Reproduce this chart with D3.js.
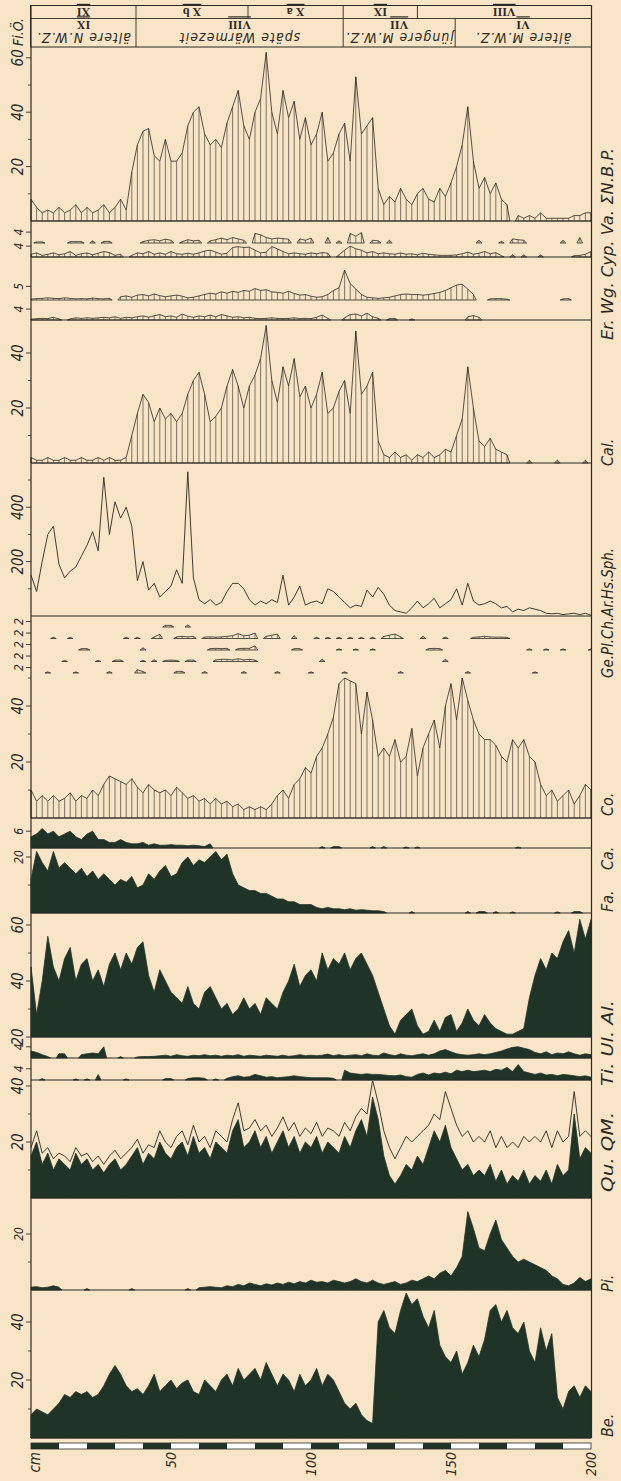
<!DOCTYPE html>
<html lang="de">
<head>
<meta charset="UTF-8">
<script src="https://d3js.org/d3.v7.min.js"></script>
<style>
  body { margin: 0; background: #f8e4c6; }
  text { font-family: "Liberation Sans Narrow", "DejaVu Sans Condensed", "Liberation Sans", sans-serif; font-style: italic; fill: #2b2a24; }
</style>
</head>
<body>
<div id="chart"></div>
<script>
// sample depths, every 2 cm
const depth = d3.range(0, 201, 2);

// values per sample (0 = not found)
const nbp = [8,5,3,4,3,5,3,4,6,3, 5,3,4,6,3,5,8,4,18,28, 33,34,24,22,30,22,22,25,35,40,
  42,32,28,30,27,36,42,48,35,30, 40,45,62,40,32,48,38,44,30,38, 28,32,40,22,25,32,36,22,53,32,
  35,38,12,6,9,7,12,8,6,10, 12,8,7,12,9,14,20,28,42,22, 12,16,10,14,8,6,0,2,1,2, 1,3,1,1,1,1,1,2,2,3,3];
const va = [0,0.4,0.4,0,0,0,0,0.5,0.5,0.5, 0,0.8,0,0.6,0.6,0,0,0,0,0, 0.5,1,1.2,0.8,1.4,1,0,0.5,1.2,0.8,
  1,0,0.8,1.2,1.8,1.2,2,1.5,1,0, 3.5,3,2,1.5,1.8,1.6,1.4,0,1.5,1, 1.8,0,0,2,0,0.8,0,3.5,2.5,3.8,
  0,1,0.8,0,1,0,0,0,0,0, 0,0,0,0,0,0,0,0,0,0, 1,0,0,0,0.6,0,1.5,1.2,1,0, 0,0,0,0,0,1,0,0,2,0,0];
const cyp = [1,1.5,0.6,1,1.5,0.8,1.2,2,0.6,1.2, 1.5,0.8,1.4,2,1.6,0.6,1,0,0.6,1.5, 1.2,2,1,1.5,1,2,1.2,1,1.4,1,
  1.5,2.2,2.5,1.8,1,1.4,3.5,3.8,3.5,3.6, 2.5,1.5,1.8,3.8,3,2,1.2,1.5,1.2,1, 1.5,1.2,1.6,1.4,0,0.8,2.5,4,3,2.5,
  1.5,2,1.2,1.5,1.2,1,1.5,1,1.2,0.8, 1.4,1,0.8,0.6,0.6,0.6,0.8,1.2,1.8,1, 1.4,2,1.2,1.6,0.5,0,0.8,0,0.8,0, 0,0.8,0,0,0,0,0,0.5,0.6,1,2];
const wg = [0.3,0.5,0.6,0.8,0.6,0.5,0.8,0.6,0.4,0.5, 0.4,0.7,0.5,0.4,0.6,0,1.2,1.5,1,1.8, 2,1.5,2.2,1.6,1.2,1.5,1.8,1.4,0.8,1,
  1.5,2,2.5,2.2,3,2.5,3.2,2.8,3.5,3.2, 4.2,3.5,3.8,3,2.8,2.5,3.2,2.4,1.8,2, 1.4,1,1.2,2,3.5,4.5,11,6,4,2,
  1,0.8,0.6,0.8,1,1.5,2,2.2,2,2, 1.8,2,2.4,2.8,3.5,4.5,5.5,5.8,4,2, 0,0,0.4,0.5,0.5,0.3,0,0,0,0, 0,0,0,0,0,0.4,0.5,0,0,0,0];
const er = [0.3,0.5,0.6,0.5,1,0.4,0,0.4,0.8,0.6, 0.8,0.6,0.8,1,0.8,1.2,0.6,1,0.8,1.2, 1.5,1,1.6,2,1.2,1.5,1,2.2,1.4,1,
  1.5,1.2,1.8,1.2,2,1.5,1,1.2,0.8,1, 0.6,0.5,0.6,0.8,0.6,0.5,0.6,0.8,0.5,0.6, 0.5,1,1.8,0.6,0,0,0.8,2,2.2,1.5,
  2.5,1.2,0.6,0,0.5,0.6,0,0,0.4,0, 0,0,0,0,0,0,0,0,1.2,1.6, 1,0,0,0,0,0,0,0,0,0, 0,0,0,0,0,0,0,0,0,0,0];
const cal = [2,1,1,2,1,1,2,1,1,2, 1,1,2,1,2,1,1,2,10,18, 25,22,15,20,16,18,15,18,25,30,
  33,25,15,17,20,28,34,28,20,28, 32,38,50,30,22,35,28,38,24,28, 20,25,33,18,20,26,30,18,48,25,
  28,33,8,3,2,4,2,3,1,3, 2,4,2,3,5,4,10,16,35,20, 8,6,9,5,4,3,0,0,0,1, 0,0,0,0,1,0,0,0,0,1,0];
const sph = [150,90,200,300,330,190,140,165,180,220, 260,310,240,510,300,420,360,400,330,130,
  200,95,120,70,90,110,170,120,530,140, 60,45,60,40,50,90,120,120,100,60, 40,55,45,60,50,150,40,70,110,40,
  50,55,45,100,90,70,50,30,40,35, 95,70,105,80,40,20,15,10,30,55, 30,45,65,30,45,60,100,40,120,55,
  40,45,55,45,30,35,15,25,20,30, 25,20,10,8,10,5,8,10,5,10,3];
const ge = [0,0,0,0,0,0,0,0,0,0, 0,0,0,0,0,0,0,0,0,0, 0,0,0,0,0.6,0.6,0,0,0.7,0,
  0,0,0,0,0,0,0,0,0,0, 0,0,0,0,0,0,0,0,0,0, 0,0,0,0,0,0,0,0,0,0,
  0,0,0,0,0,0,0,0,0,0, 0,0,0,0,0,0,0,0,0,0, 0,0,0,0,0,0,0,0,0,0, 0,0,0,0,0,0,0,0,0,0,0];
const pl = [0,0,0,0,0.4,0,0,0.4,0,0, 0,0,0,0,0,0,0,0.4,0,0.4, 0,0,0.6,1.5,0,0,0.6,0.8,0.6,0.8,
  0,0.5,0.6,0.5,0.6,0.8,1,1.8,1,1.2, 2,0,0.8,1.2,1.6,0,0,1,0,0, 0,0.4,0,0.4,0,0.4,0,0.4,0,0.4,
  0,0.4,0,0.8,1.2,1.6,0.6,0,0,0, 0.8,0,0,0,0.5,0,0,0,0,0.4, 0.6,0.8,0.6,0.5,0.5,0.4,0,0,0,0, 0,0,0,0,0,0,0,0,0,0,0];
const ch = [0,0,0,0,0,0,0,0,0,0.5, 0.5,0,0,0,0,0,0,0,0,0, 0.8,0,0,0,0,0,0,0,0,0,
  0,0,0.5,0.6,0.5,0.6,0,0.5,0.6,0.6, 1.5,0,0,0,0,0,0,0.5,0.5,0, 0,0,0,0,0,0.4,0,0,0.4,0,
  0,0.4,0,0,0,0,0,0,0,0, 0,0.5,0.6,0.5,0,0,0,0,0,0, 0,0,0,0,0,0,0,0,0,0.4, 0,0,0.4,0,0,0.4,0,0,0,0,0.4];
const ar = [0,0,0,0,0,0,0.4,0,0,0, 0,0,0.4,0,0,0.5,0.5,0,0,0, 0.4,0,0.6,0,0.4,0.5,0.4,0,0.5,0.5,
  0,0,0,0.6,0.8,0.8,0.6,1,0.6,0.8, 0.5,0,0,0,0,0,0,0,0,0, 0,0,0.8,0,0,0,0,0,0,0,
  0,0,0,0,0,0,0,0,0,0, 0,0,0,0,0.8,0,0,0,0,0, 0,0,0,0,0,0,0,0,0,0, 0,0,0,0,0,0,0,0,0,0,0];
const hs = [0,0,0,0.4,0,0,0,0,0.4,0, 0,0,0,0,0.5,0,0,0,0,1.2, 0.5,0,0,0,0,0,0.6,0.6,0,0,
  0,0.5,0,0,0,0,0,0,0.5,0, 0,0,0,0,0.5,0,0,0,0,0, 0.4,0,0,0,0,0,0.4,0,0,0,
  0,0,0,0,0,0,0.5,0,0,0, 0,0,0,0,0,0,0,0,0.5,0, 0,0,0,0,0,0,0,0,0,0, 0.4,0,0,0,0,0,0,0,0,0,0];
const co = [10,6,8,6,8,6,7,9,6,8, 7,10,8,12,15,14,13,12,14,11, 9,12,10,9,10,8,11,9,7,8,
  6,7,5,7,5,6,4,5,3,4, 3,4,3,5,8,10,7,12,14,18, 16,22,25,30,36,48,50,49,48,30,
  45,35,22,25,22,28,20,22,32,15, 25,30,35,25,40,48,35,50,42,35, 30,28,28,26,22,20,28,25,28,22, 20,12,8,10,6,8,10,5,8,12,10];
const ca = [4,5,7,5,6,4,5,6,4,3, 5,6,3,3,2,2,3,2,1.5,1.5, 2,1,1.5,1,1,1.2,1,1,0.8,1,
  0.8,0.5,1.5,0,0,0,0,0,0,0, 0,0,0,0,0,0,0,0,0,0, 0,0,0.5,0,0.5,0.5,0,0,0,0,
  0,0.5,0,0.5,0,0,0,0.4,0,0.4, 0,0,0,0,0,0,0,0,0,0, 0,0,0,0,0,0,0,0.4,0,0, 0,0,0,0,0,0,0,0,0,0,0];
const fa = [12,22,18,15,22,16,18,16,14,16, 13,15,12,14,12,10,12,11,13,9, 10,14,12,15,17,13,14,18,20,17,
  19,18,20,22,19,21,14,10,9,8, 8,7,7,6,5,5,4,4,3,3, 3,2,1.5,2,1.5,1.5,1.2,1.5,1,1.2,
  1,0.8,0.8,0.5,0,0,0,0,0.5,0, 0,0,0,0,0,0,0,0,0.5,0, 0.5,0.5,0,0.5,0,0,0.4,0,0,0, 0,0,0,0,0.4,0,0,0.5,0.5,0,0];
const al = [45,28,40,56,45,40,48,52,40,46, 48,40,44,38,46,50,44,50,46,52, 54,42,36,44,40,36,34,32,38,32,
  30,36,38,34,30,32,28,30,34,30, 32,28,34,32,30,36,40,46,38,42, 44,40,50,44,48,46,50,44,48,50,
  46,42,36,30,24,21,26,28,30,24, 21,22,26,22,27,28,22,25,30,26, 24,28,25,23,22,21,21,22,23,34, 42,48,44,50,48,54,58,50,62,55,62];
const ul = [2.5,2,1.2,0.5,0,1.5,1.5,0,0,1.2, 1.5,1.8,1.5,4,0,0,0.5,0,0,0.4, 0.5,0.5,0.6,0.8,1,0.6,1.2,0.8,0.6,1,
  0.8,1.2,0.8,1,0.6,1,0.8,1.2,0.6,1, 0.8,0.6,1,0.8,0.6,1,0.6,0.8,1.2,0.8, 1,0.8,1,1.4,0.8,1.2,0.8,1,1.2,0.8,
  1.5,1,0.8,1.8,1.2,0.8,1.5,1,0.8,1.2, 1.5,1,1.5,2.5,3,2.2,1.5,1.2,1,1.2, 1.5,1.2,1.5,2,2.5,3.2,3.8,4,3.5,3, 2,1.5,2.2,1.2,1.8,1.5,2.2,1.5,1,1.5,1.2];
const ti = [0,0,0.5,0,0,0,0,0,0.4,0, 0.4,0,2,0,0,0,0,0.4,0,0, 0,0,0,0,0.5,0.5,0,0,0.5,0.8,
  0.8,0.6,0,0.4,0,0.6,1.2,1.5,1,1.2, 2,1.5,1,1.2,0.8,1,1.2,1.5,1.2,1, 0.8,0.8,0.8,0.8,0.6,0,3.5,2.5,2.2,2,
  2.2,2,2,1.8,1.6,1.5,1.8,1.2,1,2, 2.5,1.8,2.5,2.2,2.8,2.2,3.5,3,3.5,3, 3.2,3.5,3,3.8,3.5,4.5,3,5.5,3,2.5, 2,2.5,1.8,2,1.5,2,1.8,1.5,1.2,1.5,1];
const qu = [15,20,12,16,10,14,12,10,16,12, 14,10,12,9,12,14,10,12,15,18, 12,16,14,20,16,14,18,20,15,22,
  16,18,14,20,18,16,24,28,18,20, 24,18,22,16,20,24,18,22,16,20, 18,22,16,20,18,16,22,18,24,28,
  22,36,28,15,8,5,8,12,10,15, 12,18,24,20,26,18,14,10,12,8, 10,8,12,6,10,5,8,6,10,5, 8,6,10,5,12,8,10,30,14,18,16];
const qm = [18,24,16,18,14,16,15,13,18,15, 16,13,15,12,15,17,14,16,18,21, 16,19,18,24,20,18,22,24,19,26,
  20,22,18,24,22,20,28,34,24,25, 28,24,26,22,25,29,24,27,22,25, 23,27,22,25,24,22,27,24,29,32,
  30,42,34,24,18,14,18,22,20,22, 24,26,30,28,38,32,26,22,24,20, 22,20,24,18,22,18,20,18,22,20, 22,20,24,18,24,20,22,38,22,24,22];
const pi = [1,1.2,0.8,1,1.5,1,0,0,0,0, 0.5,0,0,0,0,0,0,0,0.5,0, 0,0,0,0,0,0,0,0,0.5,0,
  0.8,1,1.2,1,0.8,1.5,1.2,2,1.5,2.5, 2,1.5,2.2,1.8,2.5,2,2.8,2.2,3,2.5, 3.5,2.8,3,2.5,3.5,3,2.5,3,4,3,
  2.5,3.5,2.5,2,2.5,3,2,2.5,3.5,3, 4,5,4,6,7,5,8,12,28,22, 15,14,20,25,18,15,12,10,11,10, 9,8,7,5,4,2,1.5,2.5,4.5,3,4];
const be = [8,10,9,8,10,12,15,14,16,15, 16,14,15,18,22,25,22,18,16,17, 15,18,22,16,18,20,17,19,20,16,
  15,20,18,16,20,22,18,24,20,22, 24,20,26,22,18,22,20,16,22,18, 20,24,18,22,20,16,12,10,12,8,
  6,5,40,44,38,36,44,50,46,48, 42,38,44,32,28,26,30,22,26,32, 28,34,44,46,40,44,38,36,40,30, 26,38,30,36,14,10,16,18,14,18,16];

// zones (depth limits in cm)
const zoneTopLabels = ["XI", "X b", "X a", "IX", "VIII"];
const zoneTopBreaks = [0, 37.5, 77.5, 111.5, 138, 200];
const zoneNums = ["IX", "VIII", "VII", "VI"];
const zoneNames = ["ältere N.W.Z.", "späte Wärmezeit", "jüngere M.W.Z.", "ältere M.W.Z."];
const zoneBreaks = [0, 37.5, 111.5, 151.5, 200];
const depthTicks = [50, 100, 150, 200];

const ink = "#2b2a24", dark = "#1f3327", paper = "#f8e4c6";

const svg = d3.select("#chart").append("svg")
  .attr("width", 621).attr("height", 1481);
svg.append("rect").attr("width", 621).attr("height", 1481).attr("fill", paper);

const x = d3.scaleLinear().domain([0, 200]).range([31, 591]);

// panel layout: baseline y, pixels per unit
const panels = [
  { v: nbp, base: 221, ppu: 2.72, kind: "hatch", ticks: [20, 40, 60], minor: [10, 30, 50], rule: true },
  { v: va, base: 243, ppu: 2.72, kind: "hatch", ticks: [4] },
  { v: cyp, base: 257, ppu: 2.72, kind: "hatch", ticks: [4], rule: true },
  { v: wg, base: 300, ppu: 2.72, kind: "hatch", ticks: [5] },
  { v: er, base: 320, ppu: 2.72, kind: "hatch", ticks: [4], rule: true },
  { v: cal, base: 463, ppu: 2.75, kind: "hatch", ticks: [20, 40], minor: [10, 30], rule: true },
  { v: sph, base: 616, ppu: 0.272, kind: "line", ticks: [200, 400], minor: [100, 300, 500], rule: true },
  { v: ge, base: 627, ppu: 2.72, kind: "hatch", ticks: [2] },
  { v: pl, base: 638.5, ppu: 2.72, kind: "hatch", ticks: [2] },
  { v: ch, base: 650, ppu: 2.72, kind: "hatch", ticks: [2] },
  { v: ar, base: 661.5, ppu: 2.72, kind: "hatch", ticks: [2] },
  { v: hs, base: 673, ppu: 2.72, kind: "hatch", ticks: [2] },
  { v: co, base: 818, ppu: 2.8, kind: "hatch", ticks: [20, 40], minor: [10, 30, 50], rule: true },
  { v: ca, base: 848, ppu: 2.8, kind: "dark", ticks: [6], rule: true },
  { v: fa, base: 913, ppu: 2.8, kind: "dark", ticks: [20], minor: [10], rule: true },
  { v: al, base: 1037, min: 20, ppu: 2.8, kind: "dark", ticks: [20, 40, 60], minor: [30, 50], rule: true },
  { v: ul, base: 1058, ppu: 2.8, kind: "dark", ticks: [4], rule: true },
  { v: ti, base: 1080, ppu: 2.8, kind: "dark", ticks: [4], rule: true },
  { v: qu, base: 1198, ppu: 2.8, kind: "dark", ticks: [20, 40], minor: [10, 30], rule: true, outline: qm },
  { v: pi, base: 1290, ppu: 2.8, kind: "dark", ticks: [20], minor: [10], rule: true },
  { v: be, base: 1438, ppu: 2.9, kind: "dark", ticks: [20, 40], minor: [10, 30], rule: true }
];

// split a series into runs of present samples
function runs(vals) {
  const out = [];
  let cur = null;
  vals.forEach((v, i) => {
    if (v > 0) {
      if (!cur) { cur = []; out.push(cur); }
      cur.push([depth[i], v]);
    } else cur = null;
  });
  return out;
}

const plot = svg.append("g");
const axis = svg.append("g");

panels.forEach(p => {
  const min = p.min || 0;
  const y = d3.scaleLinear().domain([min, min + 100]).range([p.base, p.base - 100 * p.ppu]);
  const yv = v => y(Math.max(v, min));

  if (p.kind === "line") {
    plot.append("path")
      .attr("d", d3.line().x((v, i) => x(depth[i])).y(v => yv(v))(p.v))
      .attr("fill", "none").attr("stroke", ink).attr("stroke-width", 0.9);
  } else {
    const area = d3.area().x(d => x(d[0])).y0(p.base).y1(d => yv(d[1]));
    runs(p.v).forEach(r => {
      const pts = [[Math.max(0, r[0][0] - 1), min], ...r, [Math.min(200, r[r.length - 1][0] + 1), min]];
      plot.append("path")
        .attr("d", area(pts))
        .attr("fill", p.kind === "dark" ? dark : "none")
        .attr("stroke", p.kind === "dark" ? dark : ink)
        .attr("stroke-width", 0.8)
        .attr("stroke-linejoin", "round");
      if (p.kind === "hatch") {
        plot.append("g").selectAll("line").data(r).join("line")
          .attr("x1", d => x(d[0])).attr("x2", d => x(d[0]))
          .attr("y1", p.base).attr("y2", d => yv(d[1]))
          .attr("stroke", ink).attr("stroke-width", 0.6);
      }
    });
  }

  if (p.outline) {
    const ln = d3.line().x((v, i) => x(depth[i])).y(v => yv(v));
    plot.append("path").attr("d", ln(p.outline)).attr("fill", "none")
      .attr("stroke", paper).attr("stroke-width", 2.2);
    plot.append("path").attr("d", ln(p.outline)).attr("fill", "none")
      .attr("stroke", ink).attr("stroke-width", 0.9);
  }

  if (p.rule) {
    axis.append("line").attr("x1", 31).attr("x2", 591.5)
      .attr("y1", p.base).attr("y2", p.base)
      .attr("stroke", ink).attr("stroke-width", 1.1);
  }

  (p.minor || []).forEach(t => {
    axis.append("line").attr("x1", 28).attr("x2", 31)
      .attr("y1", y(t)).attr("y2", y(t)).attr("stroke", ink).attr("stroke-width", 0.8);
  });
  p.ticks.forEach(t => {
    axis.append("line").attr("x1", 26).attr("x2", 31)
      .attr("y1", y(t)).attr("y2", y(t)).attr("stroke", ink).attr("stroke-width", 0.9);
    axis.append("text")
      .attr("transform", `translate(23,${y(t)}) rotate(-90)`)
      .attr("text-anchor", "middle")
      .style("font-size", p.ticks.length === 1 ? "12px" : "15px")
      .text(t);
  });
});

// frame: left axis, right border
axis.append("line").attr("x1", 31).attr("x2", 31).attr("y1", 5).attr("y2", 1438)
  .attr("stroke", ink).attr("stroke-width", 1.2);
axis.append("line").attr("x1", 591.5).attr("x2", 591.5).attr("y1", 5).attr("y2", 1438)
  .attr("stroke", ink).attr("stroke-width", 1.2);

// header with zones (lettering upside down)
const head = svg.append("g");
head.append("rect").attr("x", 30.5).attr("y", 5.5).attr("width", 561).attr("height", 41.5)
  .attr("fill", "none").attr("stroke", ink).attr("stroke-width", 1);
head.append("line").attr("x1", 30.5).attr("x2", 591.5).attr("y1", 18.5).attr("y2", 18.5)
  .attr("stroke", ink).attr("stroke-width", 0.9);
zoneTopBreaks.slice(1, -1).forEach(b => {
  head.append("line").attr("x1", x(b)).attr("x2", x(b)).attr("y1", 5.5).attr("y2", 18.5)
    .attr("stroke", ink).attr("stroke-width", 0.9);
});
zoneBreaks.slice(1, -1).forEach(b => {
  head.append("line").attr("x1", x(b)).attr("x2", x(b)).attr("y1", 18.5).attr("y2", 47)
    .attr("stroke", ink).attr("stroke-width", 0.9);
});
zoneTopLabels.forEach((t, i) => {
  const cx = (x(zoneTopBreaks[i]) + x(zoneTopBreaks[i + 1])) / 2;
  head.append("text").attr("transform", `translate(${cx},12) rotate(180)`)
    .attr("text-anchor", "middle").attr("dominant-baseline", "central")
    .style("font-family", "Liberation Serif, serif").style("font-style", "normal").style("font-weight", "bold")
    .style("font-size", "12px").style("text-decoration", "underline").text(t);
});
zoneNums.forEach((t, i) => {
  const cx = (x(zoneBreaks[i]) + x(zoneBreaks[i + 1])) / 2;
  head.append("text").attr("transform", `translate(${cx},24.5) rotate(180)`)
    .attr("text-anchor", "middle").attr("dominant-baseline", "central")
    .style("font-family", "Liberation Serif, serif").style("font-style", "normal").style("font-weight", "bold")
    .style("font-size", "12px").style("text-decoration", "underline").text(t);
  head.append("text").attr("transform", `translate(${cx},37.5) rotate(180)`)
    .attr("text-anchor", "middle").attr("dominant-baseline", "central")
    .style("font-size", "14px").style("letter-spacing", "1px").text(zoneNames[i]);
});
svg.append("text").attr("transform", "translate(23,46) rotate(-90)")
  .attr("text-anchor", "start").style("font-size", "14px").text("Fi.Ö.");

// taxon names on the right, reading upward
const names = [
  { t: "Er. Wg. Cyp. Va. ΣN.B.P.", y: 340, len: 192 },
  { t: "Cal.", y: 466 },
  { t: "Ge.Pl.Ch.Ar.Hs.Sph.", y: 678, len: 130 },
  { t: "Co.", y: 816 },
  { t: "Ca.", y: 870 },
  { t: "Fa.", y: 912 },
  { t: "Ti. Ul. Al.", y: 1086, len: 86 },
  { t: "Qu. QM.", y: 1192, len: 80 },
  { t: "Pi.", y: 1292 },
  { t: "Be.", y: 1437 }
];
names.forEach(n => {
  const tx = svg.append("text").attr("transform", `translate(613,${n.y}) rotate(-90)`)
    .attr("text-anchor", "start").style("font-size", "16px").text(n.t);
  if (n.len) tx.attr("textLength", n.len).attr("lengthAdjust", "spacingAndGlyphs");
});

// depth scale bar
const bar = svg.append("g");
d3.range(0, 200, 10).forEach(d => {
  bar.append("rect").attr("x", x(d)).attr("y", 1443).attr("width", x(d + 10) - x(d)).attr("height", 6)
    .attr("fill", (d / 10) % 2 === 0 ? dark : "#ffffff");
});
bar.append("rect").attr("x", x(0)).attr("y", 1443).attr("width", x(200) - x(0)).attr("height", 6)
  .attr("fill", "none").attr("stroke", ink).attr("stroke-width", 0.8);
depthTicks.forEach(t => {
  bar.append("text").attr("transform", `translate(${x(t) + 5},1452) rotate(-90)`)
    .attr("text-anchor", "end").style("font-size", "14px").text(t);
});
bar.append("text").attr("transform", `translate(${x(0) + 9},1452) rotate(-90)`)
  .attr("text-anchor", "end").style("font-size", "15px").text("cm");
</script>
</body>
</html>
